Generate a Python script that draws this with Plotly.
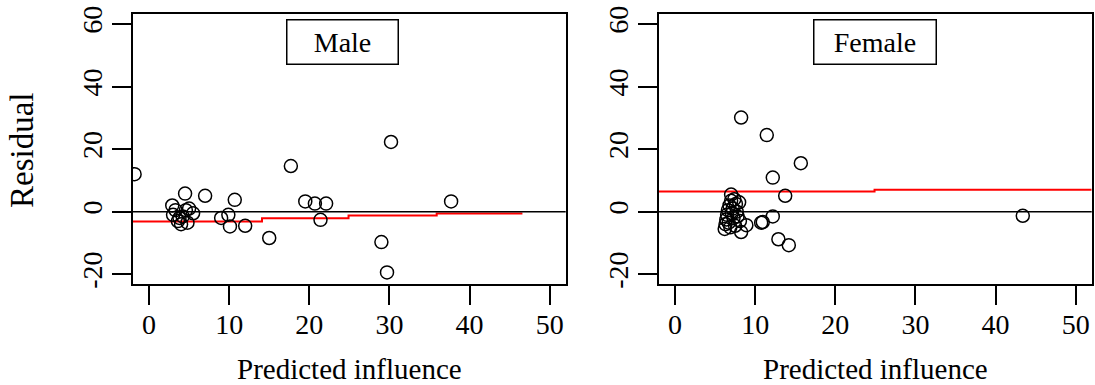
import plotly.graph_objects as go

# Male residuals vs predicted influence
male_pred = [-1.8, 2.9, 3.0, 3.3, 3.6, 3.8, 4.0, 4.2, 4.5, 4.6, 4.8, 5.0, 5.5,
             7.0, 9.0, 9.9, 10.1, 10.7, 12.0, 15.0, 17.7, 19.5, 20.7, 21.4,
             22.1, 29.0, 29.7, 30.2, 37.7]
male_resid = [12.0, 2.0, -1.0, 0.5, -3.0, -2.0, -4.0, -1.5, 5.8, 0.5, -3.5, 1.0,
              -0.5, 5.1, -2.0, -1.0, -4.7, 3.8, -4.5, -8.4, 14.6, 3.3, 2.6,
              -2.6, 2.6, -9.7, -19.4, 22.3, 3.3]

# Female residuals vs predicted influence
female_pred = [6.2, 6.3, 6.4, 6.5, 6.6, 6.7, 6.8, 6.9, 7.0, 7.0, 7.1, 7.2, 7.3,
               7.4, 7.5, 7.6, 7.7, 7.8, 8.0, 8.1, 8.25, 8.9, 8.25, 11.45, 15.7,
               12.2, 13.75, 12.2, 10.75, 10.95, 12.9, 14.2, 43.4]
female_resid = [-5.5, -4.0, -2.5, -1.0, 0.5, -3.5, 2.0, -5.0, 3.5, 5.5, -0.5,
                1.0, -2.0, 4.0, -4.5, 2.5, 0.0, -1.5, 3.0, -3.0, -6.5, -4.3,
                30.1, 24.5, 15.5, 10.9, 5.1, -1.5, -3.5, -3.3, -8.8, -10.7, -1.3]

# Fitted trend (step function) for each panel
male_fit_x = [-2.0, 14.1, 24.9, 35.9, 46.6]
male_fit_y = [-3.1, -2.1, -1.2, -0.6, -0.6]
female_fit_x = [-2.0, 24.9, 52.0]
female_fit_y = [6.5, 7.0, 7.0]

x_ticks = [0, 10, 20, 30, 40, 50]
x_tick_text = ["0", "10", "20", "30", "40", "50"]
y_ticks = [-20, 0, 20, 40, 60]
y_tick_text = ["-20", "0", "20", "40", "60"]
x_range = [-2.0, 52.0]
y_range = [-23.2, 63.2]

W, H = 1095, 385
FONT = "Liberation Serif, Times New Roman, serif"

fig = go.Figure()

marker = dict(symbol="circle-open", size=13, color="black", line=dict(width=1.5))

for xs, ys, fx, fy, xa, ya in [
    (male_pred, male_resid, male_fit_x, male_fit_y, "x", "y"),
    (female_pred, female_resid, female_fit_x, female_fit_y, "x2", "y2"),
]:
    fig.add_trace(go.Scatter(x=fx, y=fy, mode="lines", xaxis=xa, yaxis=ya,
                             line=dict(color="red", width=2, shape="hv"),
                             showlegend=False, hoverinfo="skip"))
    fig.add_trace(go.Scatter(x=xs, y=ys, mode="markers", xaxis=xa, yaxis=ya,
                             marker=marker, showlegend=False))

axis_common = dict(showgrid=False, zeroline=False, showline=True, mirror=True,
                   linecolor="black", linewidth=1.5, ticks="outside", ticklen=19,
                   tickwidth=1.5, tickcolor="black", automargin=False,
                   tickfont=dict(family=FONT, size=28, color="black"))

y_top = 1 - 14 / H
y_bot = 1 - 284.3 / H

fig.update_layout(
    width=W, height=H, margin=dict(l=0, r=0, t=0, b=0, autoexpand=False),
    paper_bgcolor="white", plot_bgcolor="white",
    xaxis=dict(domain=[133 / W, 565.7 / W], range=x_range, tickvals=x_ticks,
               ticktext=x_tick_text, anchor="y", ticklabelstandoff=-5,
               **axis_common),
    yaxis=dict(domain=[y_bot, y_top], range=y_range, tickvals=y_ticks,
               ticktext=y_tick_text, tickangle=-90, anchor="x",
               ticklabelstandoff=-1, **axis_common),
    xaxis2=dict(domain=[659 / W, 1091.7 / W], range=x_range, tickvals=x_ticks,
                ticktext=x_tick_text, anchor="y2", ticklabelstandoff=-5,
                **axis_common),
    yaxis2=dict(domain=[y_bot, y_top], range=y_range, tickvals=y_ticks,
                ticktext=y_tick_text, tickangle=-90, anchor="x2",
                ticklabelstandoff=-1, **axis_common),
)

# Horizontal reference line at zero
for xr, yr in [("x domain", "y"), ("x2 domain", "y2")]:
    fig.add_shape(type="line", xref=xr, yref=yr, x0=0, x1=1, y0=0, y1=0,
                  line=dict(color="black", width=1.5))

# Panel labels in framed boxes
fig.add_annotation(x=24.2, y=54.3, xref="x", yref="y", text="Male",
                   xanchor="center", yanchor="middle",
                   showarrow=False, font=dict(family=FONT, size=28, color="black"),
                   bordercolor="black", borderwidth=1.5, borderpad=0,
                   width=110, height=43, bgcolor="white")
fig.add_annotation(x=25.0, y=54.3, xref="x2", yref="y2", text="Female",
                   xanchor="center", yanchor="middle",
                   showarrow=False, font=dict(family=FONT, size=28, color="black"),
                   bordercolor="black", borderwidth=1.5, borderpad=0,
                   width=121, height=43, bgcolor="white")

# Axis titles
for cx in (349.3, 875.3):
    fig.add_annotation(x=cx / W, y=1 - 369 / H, xref="paper", yref="paper",
                       xanchor="center", yanchor="middle",
                       text="Predicted influence", showarrow=False,
                       font=dict(family=FONT, size=29, color="black"))
fig.add_annotation(x=22 / W, y=1 - 151 / H, xref="paper", yref="paper",
                   xanchor="center", yanchor="middle",
                   text="Residual", textangle=-90, showarrow=False,
                   font=dict(family=FONT, size=33, color="black"))

fig.write_html("out.html")
